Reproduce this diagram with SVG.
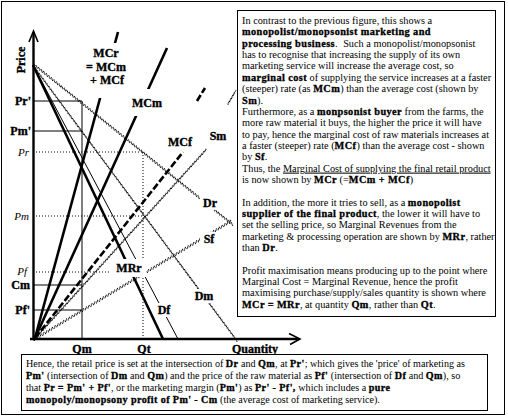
<svg xmlns="http://www.w3.org/2000/svg" xmlns:xlink="http://www.w3.org/1999/xlink" width="508" height="418" viewBox="0 0 508 418">
<style>
.ax{stroke:#000;stroke-width:2.4;fill:none}
.ah{stroke:#000;stroke-width:1.6;fill:none}
.thick{stroke:#000;stroke-width:2.6;fill:none}
.thin{stroke:#000;stroke-width:1;fill:none}
.dot{stroke:#000;stroke-width:1;stroke-dasharray:1 2;fill:none}
.dash{stroke:#000;stroke-width:2.6;stroke-dasharray:7 2.5;fill:none}
.hatch{stroke:#000;stroke-width:1.1;stroke-dasharray:1.1 2.2;fill:none}
.box{fill:#fff;stroke:#000;stroke-width:1}
.t{font-family:"Liberation Serif","Times New Roman",serif;font-size:10.3px;fill:#000}
.bt{font-size:10.1px}
.b{font-weight:bold;letter-spacing:0.4px;stroke:#000;stroke-width:0.3}
.lb{font-family:"Liberation Serif","Times New Roman",serif;font-weight:bold;font-size:12px;fill:#000;stroke:#000;stroke-width:0.35;text-anchor:middle}
.yl{text-anchor:end}
.it{font-family:"Liberation Serif","Times New Roman",serif;font-style:italic;font-size:11px;fill:#000;text-anchor:end}
.bg{fill:#fff}
</style>
<defs>
<g id="hf"><path d="M33,63 L233,224"/><path d="M33,65 L236,339"/></g>
<g id="hr"><path d="M35,338 L207,148M229,102 L236,90"/><path d="M35,338 L233,219"/></g>
</defs>
<rect x="1.5" y="1.5" width="503" height="413" fill="#fff" stroke="#000"/>
<g id="guides">
<path class="thin" d="M33,101H82M33,131H82M33,285H82M33,310H82M82,101V339"/>
<path class="dot" d="M33,152H143M33,216H143M33,272H110M143,152V339"/>
</g>
<g id="connectors">
<g class="hatch"><use xlink:href="#hf"/><use xlink:href="#hf" transform="translate(0.6,1.3)"/><use xlink:href="#hf" transform="translate(1.2,2.6)"/></g>
<g class="hatch"><use xlink:href="#hr"/><use xlink:href="#hr" transform="translate(-0.6,1.3)"/><use xlink:href="#hr" transform="translate(-1.2,2.6)"/></g>
<path class="thin" d="M33,65 L178,339"/>
<path class="dash" d="M35,338 L183,152M197,101 L205,88"/>
<path class="thick" d="M35,338 L118,32"/>
<path class="thick" d="M35,338 L167,48"/>
<path class="thick" d="M33,65 L163,339"/>
</g>
<g id="axes">
<path class="ax" d="M33.5,339V32M30,339H299"/>
<path class="ah" d="M29,42L33.5,31L38,42M289,333.5L300,339L290,344.5"/>
</g>
<g id="axis-labels">
<text class="lb" transform="translate(25,60) rotate(-90)">Price</text>
<text class="lb yl" x="31" y="105">Pr'</text>
<text class="lb yl" x="31" y="135">Pm'</text>
<text class="it" x="29" y="156">Pr</text>
<text class="it" x="29" y="220">Pm</text>
<text class="it" x="27" y="275">Pf</text>
<text class="lb yl" x="30" y="289">Cm</text>
<text class="lb yl" x="30" y="314">Pf'</text>
<text class="lb" x="82" y="353">Qm</text>
<text class="lb" x="144" y="353">Qt</text>
<text class="lb" x="255" y="353">Quantity</text>
</g>
<g id="MCr"><rect class="bg" x="84" y="43" width="46" height="55"/><text class="lb" x="106" y="57">MCr</text><text class="lb" x="106" y="71">= MCm</text><text class="lb" x="107" y="84">+ MCf</text></g>
<g id="MCm"><rect class="bg" x="132" y="89" width="30" height="27"/><text class="lb" x="147" y="107">MCm</text></g>
<g id="MCf"><rect class="bg" x="166" y="135" width="28" height="14"/><text class="lb" x="180" y="146">MCf</text></g>
<g id="Sm"><rect class="bg" x="206" y="129" width="24" height="14"/><text class="lb" x="218" y="140">Sm</text></g>
<g id="Dr"><rect class="bg" x="200" y="196" width="20" height="14"/><text class="lb" x="210" y="207">Dr</text></g>
<g id="Sf"><rect class="bg" x="200" y="232" width="18" height="14"/><text class="lb" x="209" y="243">Sf</text></g>
<g id="MRr"><rect class="bg" x="114" y="259" width="32" height="18"/><text class="lb" x="129" y="272">MRr</text></g>
<g id="Dm"><rect class="bg" x="192" y="289" width="25" height="14"/><text class="lb" x="204" y="300">Dm</text></g>
<g id="Df"><rect class="bg" x="155" y="303" width="18" height="14"/><text class="lb" x="164" y="314">Df</text></g>
<g id="explanation">
<rect class="box" x="237.5" y="10.5" width="258" height="306"/>
<text class="t" x="242" y="24">In contrast to the previous figure, this shows a</text>
<text class="t" x="242" y="35.4"><tspan class="b">monopolist/monopsonist marketing and</tspan></text>
<text class="t" x="242" y="46.7"><tspan class="b">processing business</tspan>.  <tspan dx="3">Such a monopolist/monopsonist</tspan></text>
<text class="t" x="242" y="58">has to recognise that increasing the supply of its own</text>
<text class="t" x="242" y="69.4">marketing service will increase the average cost, so</text>
<text class="t" x="242" y="80.8"><tspan class="b">marginal cost</tspan> of supplying the service increases at a faster</text>
<text class="t" x="242" y="92.1">(steeper) rate (as <tspan class="b">MCm</tspan>) than the average cost (shown by</text>
<text class="t" x="242" y="103.5"><tspan class="b">Sm</tspan>).</text>
<text class="t" x="242" y="114.8">Furthermore, as a <tspan class="b">monpsonist buyer</tspan> from the farms, the</text>
<text class="t" x="242" y="126.2">more raw material it buys, the higher the price it will have</text>
<text class="t" x="242" y="137.5">to pay, hence the marginal cost of raw materials increases at</text>
<text class="t" x="242" y="148.9">a faster (steeper) rate (<tspan class="b">MCf</tspan>) than the average cost - shown</text>
<text class="t" x="242" y="160.2">by <tspan class="b">Sf</tspan>.</text>
<text class="t" x="242" y="171.6">Thus, the <tspan text-decoration="underline">Marginal Cost of supplying the final retail product</tspan></text>
<text class="t" x="242" y="182.9">is now shown by <tspan class="b">MCr</tspan> (=<tspan class="b">MCm + MCf</tspan>)</text>
<text class="t" x="242" y="205.6">In addition, the more it tries to sell, as a <tspan class="b">monopolist</tspan></text>
<text class="t" x="242" y="217"><tspan class="b">supplier of the final product</tspan>, the lower it will have to</text>
<text class="t" x="242" y="228.3">set the selling price, so Marginal Revenues from the</text>
<text class="t" x="242" y="239.7">marketing &amp; processing operation are shown by <tspan class="b">MRr</tspan>, rather</text>
<text class="t" x="242" y="251">than <tspan class="b">Dr</tspan>.</text>
<text class="t" x="242" y="273.7">Profit maximisation means producing up to the point where</text>
<text class="t" x="242" y="285.1">Marginal Cost = Marginal Revenue, hence the profit</text>
<text class="t" x="242" y="296.4">maximising purchase/supply/sales quantity is shown where</text>
<text class="t" x="242" y="307.8"><tspan class="b">MCr = MRr</tspan>, at quantity <tspan class="b">Qm</tspan>, rather than <tspan class="b">Qt</tspan>.</text>
</g>
<g id="conclusion">
<rect class="box" x="21.5" y="354.5" width="466" height="56"/>
<text class="t bt" x="26" y="367">Hence, the retail price is set at the intersection of <tspan class="b">Dr</tspan> and <tspan class="b">Qm</tspan>, at <tspan class="b">Pr'</tspan>; which gives the 'price' of marketing as</text>
<text class="t bt" x="26" y="379"><tspan class="b">Pm'</tspan> (intersection of <tspan class="b">Dm</tspan> and <tspan class="b">Qm</tspan>) and the price of the raw material as <tspan class="b">Pf'</tspan> (intersection of <tspan class="b">Df</tspan> and <tspan class="b">Qm</tspan>), so</text>
<text class="t bt" x="26" y="391">that <tspan class="b">Pr = Pm' + Pf'</tspan>, or the marketing margin (<tspan class="b">Pm'</tspan>) as <tspan class="b">Pr' - Pf',</tspan> which includes a <tspan class="b">pure</tspan></text>
<text class="t bt" x="26" y="403"><tspan class="b">monopoly/monopsony profit of Pm' - Cm</tspan> (the average cost of marketing service).</text>
</g>
</svg>
